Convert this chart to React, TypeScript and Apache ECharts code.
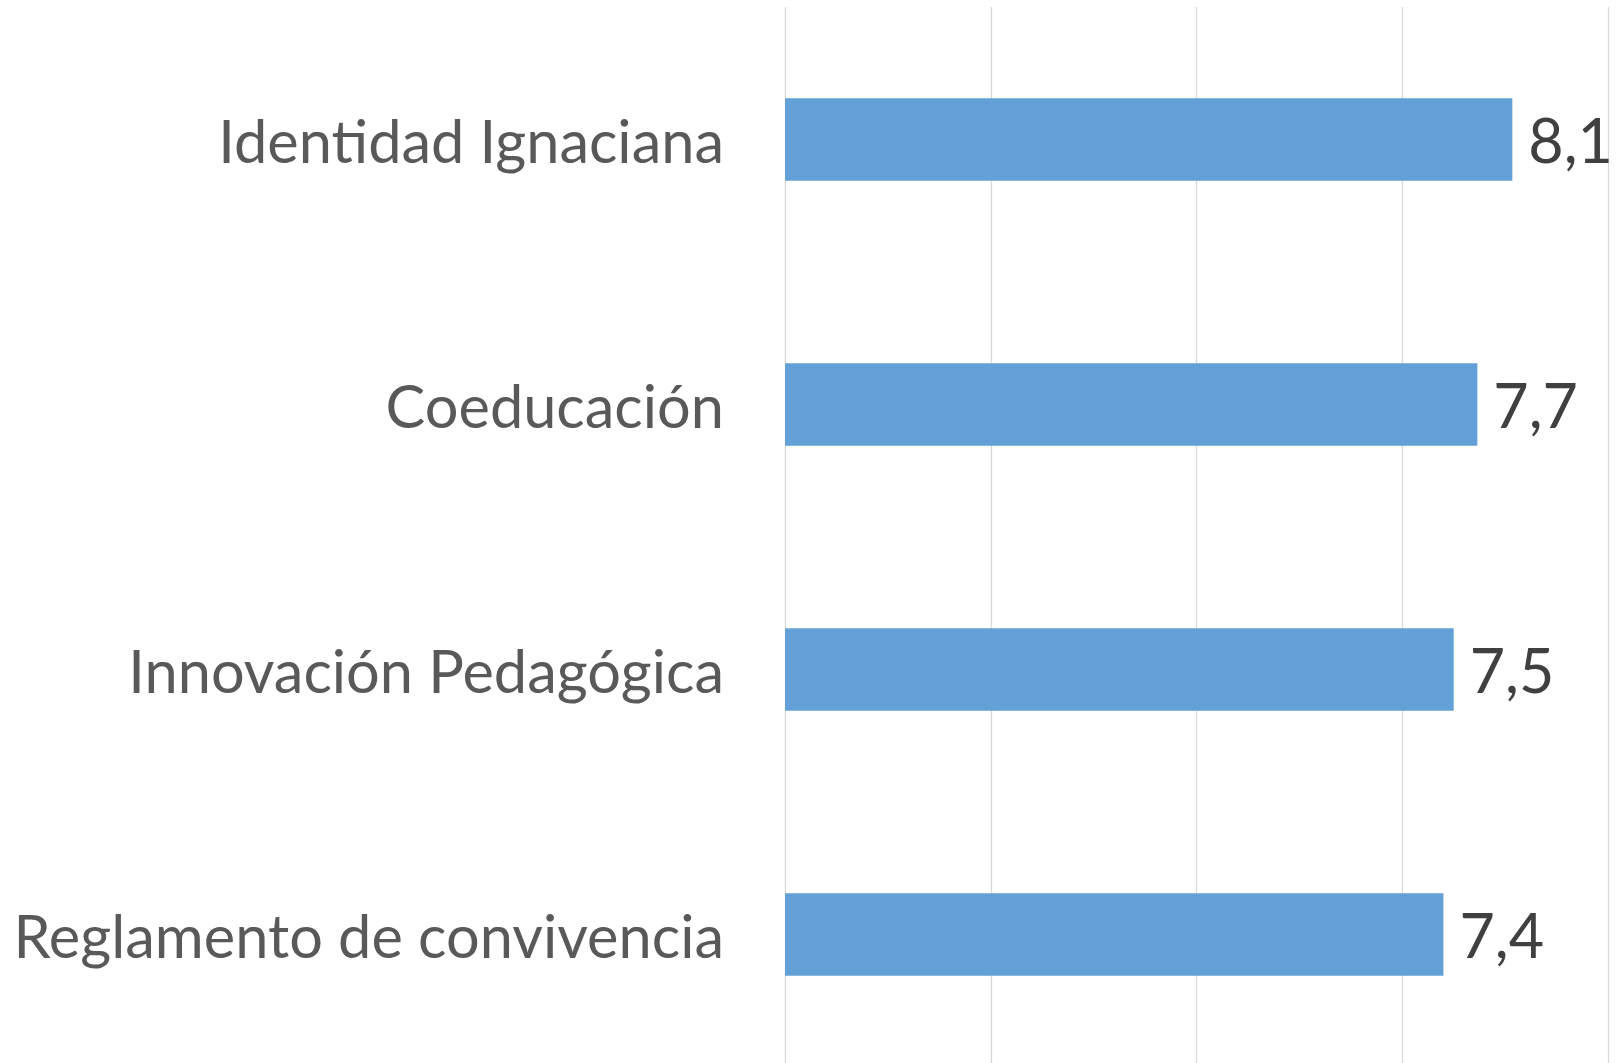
import React, { useEffect, useRef } from "react";
import * as echarts from "echarts";

const categories = [
  "Identidad Ignaciana",
  "Coeducación",
  "Innovación Pedagógica",
  "Reglamento de convivencia",
];
const values = [8.07, 7.73, 7.5, 7.4];
const axisMin = 1;
const axisMax = 9;
const axisStep = 2;

export default function App() {
  const ref = useRef<HTMLDivElement>(null);
  useEffect(() => {
    if (!ref.current) return;
    const chart = echarts.init(ref.current, undefined, { renderer: "svg" });
    chart.setOption({
      animation: false,
      backgroundColor: "#ffffff",
      grid: {
        left: 785,
        right: 10,
        top: 7,
        bottom: -4,
        containLabel: false,
        outerBoundsMode: "none",
      },
      xAxis: {
        type: "value",
        min: axisMin,
        max: axisMax,
        interval: axisStep,
        axisLabel: { show: false },
        axisLine: { show: false },
        axisTick: { show: false },
        splitLine: { show: true, lineStyle: { color: "#d9d9d9", width: 1.3 } },
      },
      yAxis: {
        type: "category",
        inverse: true,
        data: categories,
        axisLine: { show: false },
        axisTick: { show: false },
        axisLabel: {
          margin: 61,
          fontSize: 59.5,
          color: "#595959",
          fontFamily: "Lato",
        },
      },
      series: [
        {
          type: "bar",
          data: values,
          barWidth: 82.5,
          itemStyle: { color: "#62A0D7" },
          label: {
            show: true,
            position: "right",
            distance: 16,
            fontSize: 61,
            color: "#404040",
            fontFamily: "Lato",
            formatter: (p: any) => p.value.toFixed(1).replace(".", ","),
          },
        },
      ],
    });
    return () => chart.dispose();
  }, []);
  return (
    <div
      ref={ref}
      style={{ position: "absolute", left: 0, top: 0, width: 1618, height: 1063 }}
    />
  );
}
